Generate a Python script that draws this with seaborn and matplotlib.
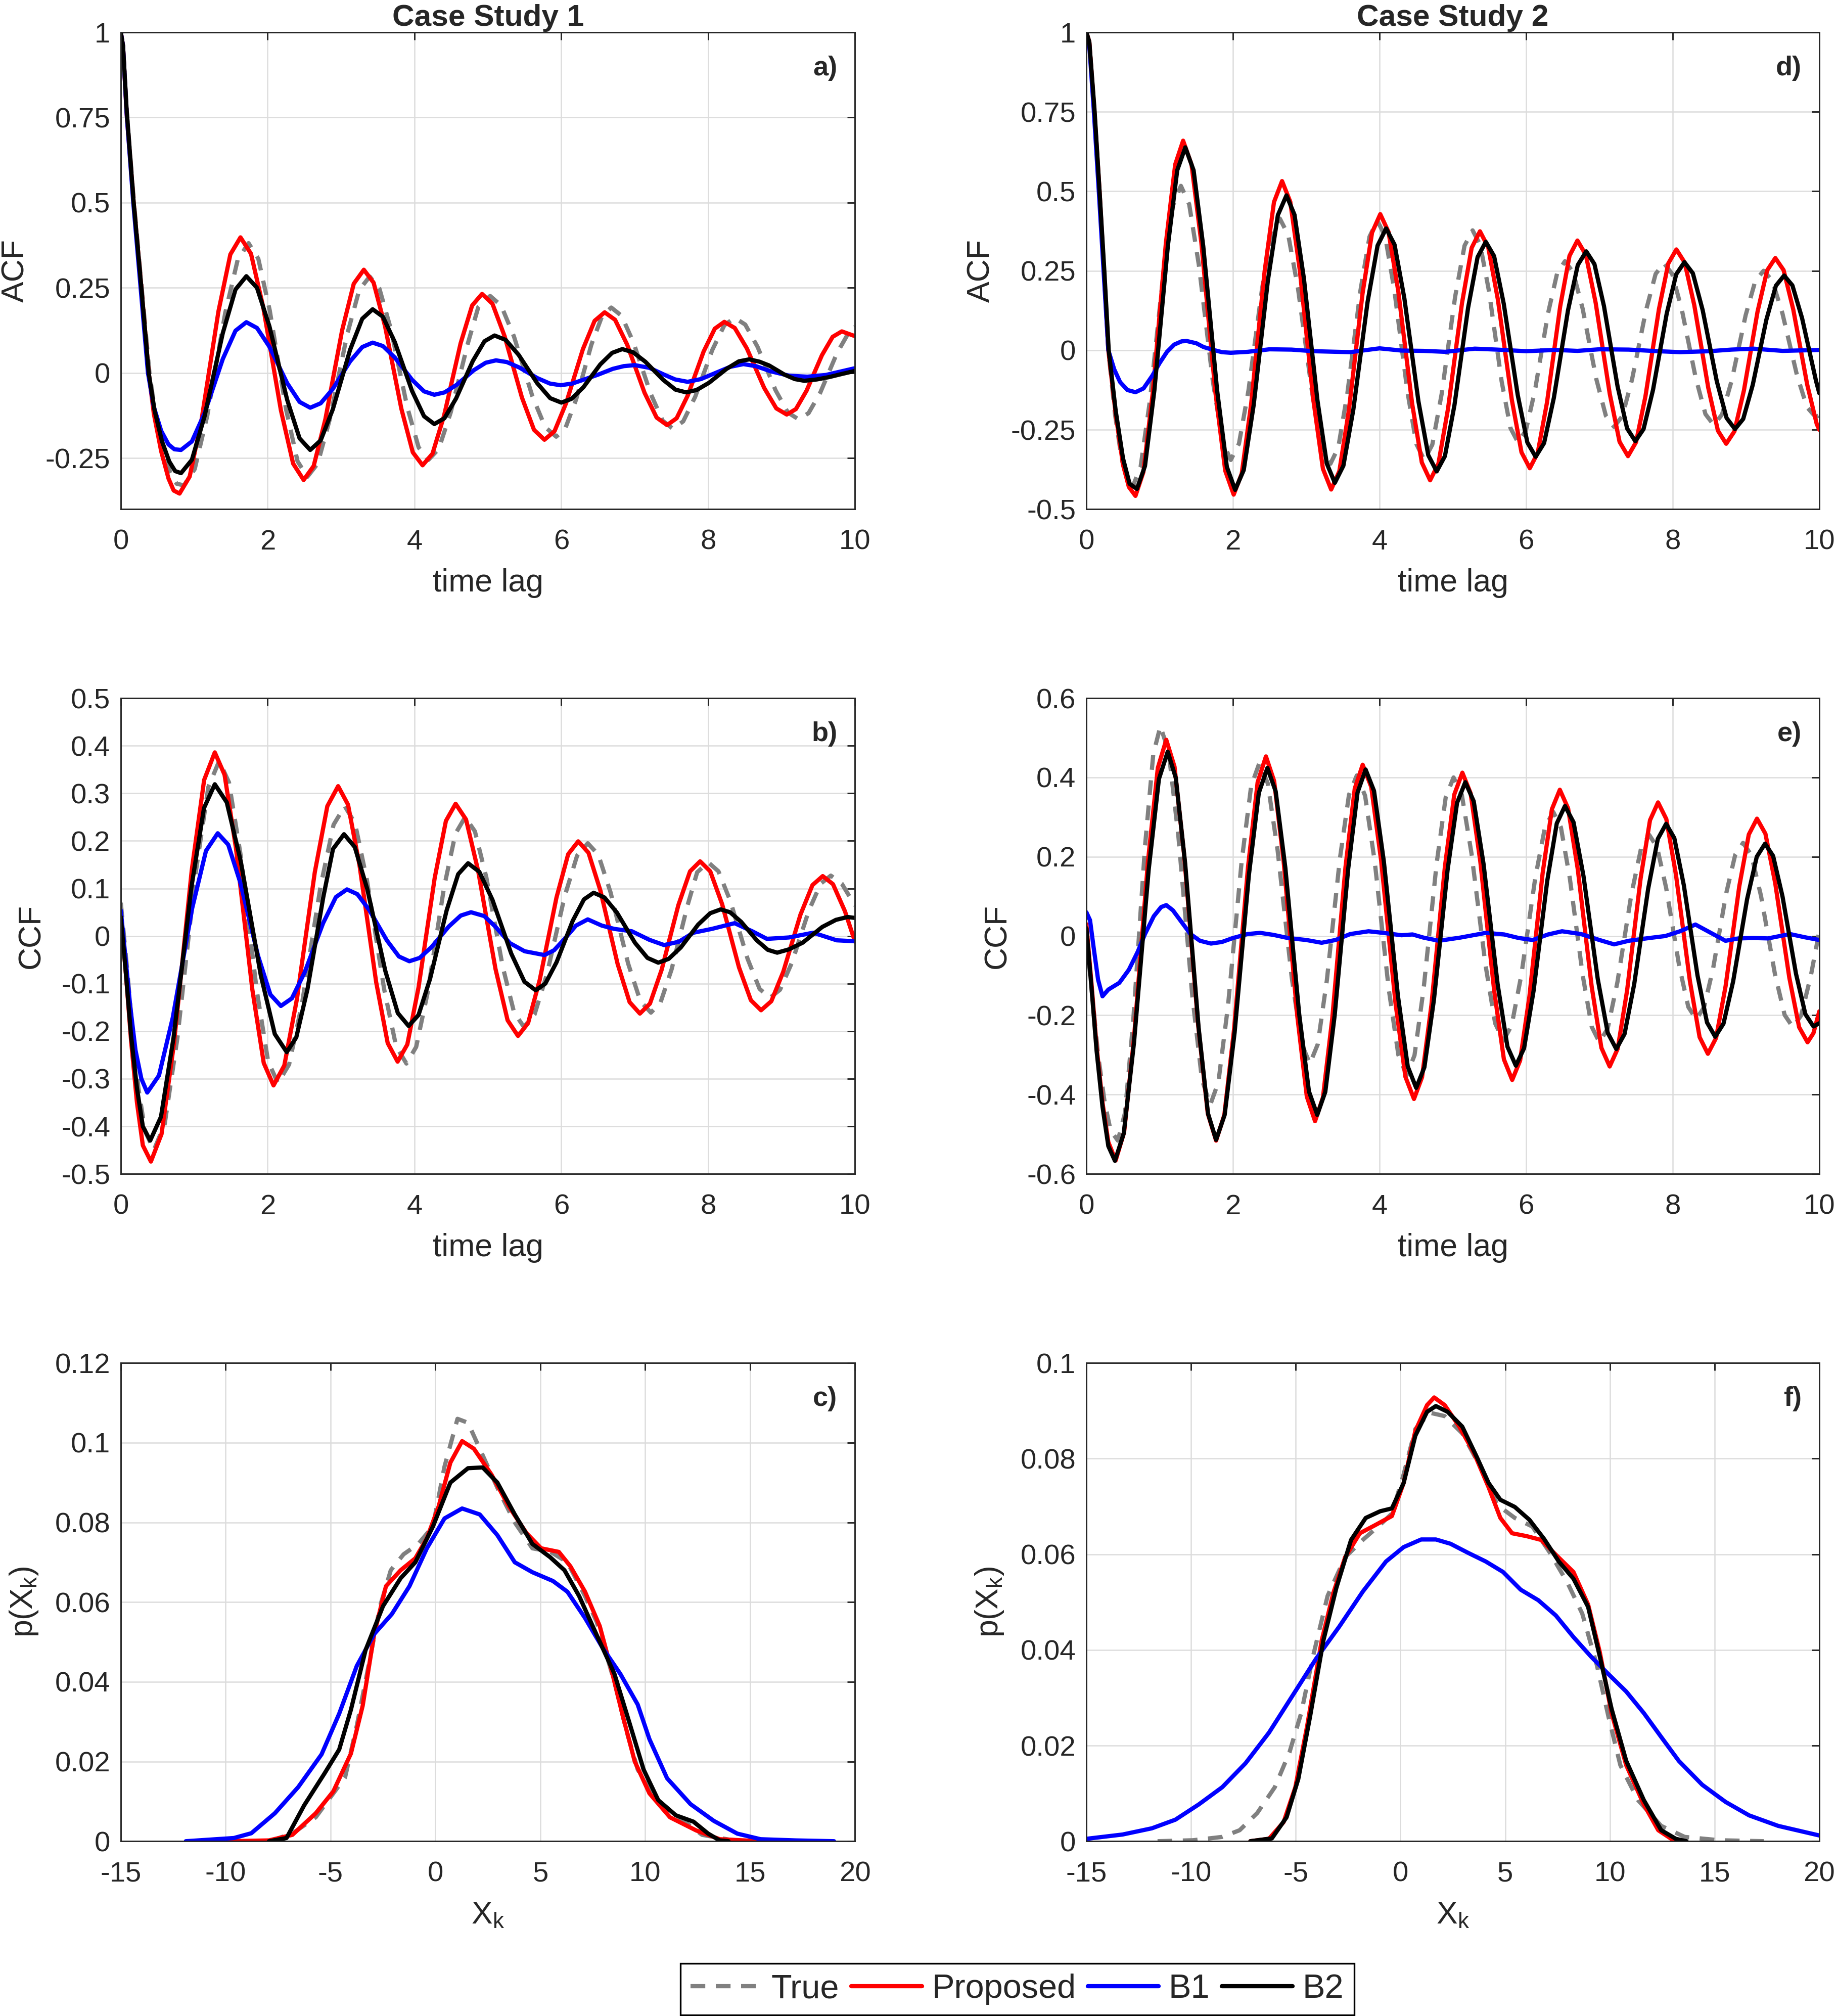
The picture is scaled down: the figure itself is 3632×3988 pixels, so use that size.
import matplotlib
matplotlib.use("Agg")
import matplotlib.pyplot as plt
import matplotlib.ticker as mticker
import seaborn as sns
import pandas as pd

# ---------------------------------------------------------------
# Valores (tempo, valor) / (X_k, densidade)
# ---------------------------------------------------------------

# a) ACF - Case Study 1
acf1_true = [
    (0, 1.0), (0.03, 0.96), (0.08, 0.77), (0.175, 0.51), (0.28, 0.26), (0.39, 0.0),
    (0.47, -0.12), (0.57, -0.22), (0.67, -0.29), (0.76, -0.325),
    (0.86, -0.33), (1.007, -0.282), (1.178, -0.125), (1.422, 0.176), (1.593, 0.333),
    (1.74, 0.381), (1.873, 0.335), (2.029, 0.183), (2.251, -0.107), (2.407, -0.259),
    (2.54, -0.305), (2.682, -0.266), (2.847, -0.135), (3.083, 0.113), (3.248, 0.244),
    (3.39, 0.283), (3.523, 0.247), (3.679, 0.128), (3.901, -0.100), (4.057, -0.219),
    (4.19, -0.255), (4.330, -0.223), (4.493, -0.116), (4.727, 0.087), (4.870, 0.194),
    (5.03, 0.226), (5.180, 0.198), (5.355, 0.107), (5.605, -0.068), (5.780, -0.159),
    (5.93, -0.187), (6.055, -0.162), (6.201, -0.078), (6.409, 0.083), (6.555, 0.167),
    (6.68, 0.192), (6.820, 0.168), (6.983, 0.089), (7.217, -0.061), (7.380, -0.140),
    (7.52, -0.164), (7.660, -0.142), (7.823, -0.070), (8.057, 0.068), (8.220, 0.140),
    (8.36, 0.162), (8.505, 0.142), (8.674, 0.076), (8.916, -0.050), (9.085, -0.116),
    (9.23, -0.136), (9.367, -0.118), (9.526, -0.058), (9.754, 0.058), (9.913, 0.118),
    (10.0, 0.135),
]
acf1_prop = [
    (0, 1.0), (0.03, 0.96), (0.08, 0.76), (0.175, 0.5), (0.28, 0.25), (0.38, 0.0),
    (0.45, -0.12), (0.55, -0.23), (0.65, -0.31), (0.72, -0.345),
    (0.80, -0.354), (0.938, -0.304), (1.100, -0.137), (1.330, 0.181), (1.492, 0.348),
    (1.63, 0.398), (1.773, 0.350), (1.940, 0.193), (2.180, -0.109), (2.347, -0.266),
    (2.49, -0.314), (2.627, -0.273), (2.786, -0.136), (3.014, 0.125), (3.173, 0.262),
    (3.31, 0.303), (3.443, 0.265), (3.599, 0.137), (3.821, -0.105), (3.977, -0.233),
    (4.11, -0.271), (4.245, -0.237), (4.402, -0.126), (4.628, 0.087), (4.785, 0.198),
    (4.92, 0.232), (5.062, 0.203), (5.227, 0.108), (5.463, -0.072), (5.628, -0.167),
    (5.77, -0.196), (5.907, -0.171), (6.066, -0.088), (6.294, 0.070), (6.453, 0.153),
    (6.59, 0.178), (6.732, 0.156), (6.897, 0.083), (7.133, -0.058), (7.298, -0.131),
    (7.44, -0.153), (7.570, -0.133), (7.722, -0.066), (7.938, 0.063), (8.090, 0.130),
    (8.22, 0.150), (8.362, 0.132), (8.527, 0.072), (8.763, -0.044), (8.928, -0.104),
    (9.07, -0.122), (9.195, -0.106), (9.34, -0.052), (9.549, 0.052), (9.695, 0.106),
    (9.82, 0.122), (10.0, 0.108),
]
acf1_b1 = [
    (0, 1.0), (0.03, 0.96), (0.08, 0.76), (0.17, 0.5), (0.27, 0.25), (0.37, 0.0),
    (0.45, -0.1), (0.55, -0.17), (0.65, -0.21), (0.73, -0.224),
    (0.82, -0.226), (0.968, -0.201), (1.141, -0.118), (1.389, 0.041), (1.562, 0.124),
    (1.71, 0.149), (1.855, 0.132), (2.024, 0.077), (2.266, -0.030), (2.435, -0.085),
    (2.58, -0.102), (2.722, -0.089), (2.887, -0.047), (3.123, 0.034), (3.288, 0.076),
    (3.43, 0.089), (3.570, 0.079), (3.733, 0.045), (3.967, -0.020), (4.130, -0.054),
    (4.27, -0.064), (4.41, -0.057), (4.573, -0.035), (4.807, 0.008), (4.97, 0.030),
    (5.11, 0.037), (5.257, 0.032), (5.428, 0.016), (5.672, -0.015), (5.843, -0.031),
    (5.99, -0.036), (6.15, -0.031), (6.3, -0.020), (6.5, -0.005), (6.7, 0.012),
    (6.85, 0.020), (7.0, 0.023), (7.2, 0.015), (7.4, -0.005), (7.55, -0.019),
    (7.72, -0.026), (7.9, -0.018), (8.1, 0.0), (8.3, 0.018), (8.48, 0.026),
    (8.65, 0.020), (8.85, 0.005), (9.1, -0.008), (9.35, -0.011), (9.6, -0.006),
    (9.8, 0.004), (10.0, 0.014),
]
acf1_b2 = [
    (0, 1.0), (0.03, 0.96), (0.08, 0.77), (0.175, 0.5), (0.28, 0.25), (0.38, 0.0),
    (0.46, -0.11), (0.56, -0.2), (0.66, -0.26), (0.74, -0.288),
    (0.82, -0.294), (0.968, -0.255), (1.141, -0.127), (1.389, 0.117), (1.562, 0.245),
    (1.71, 0.284), (1.855, 0.250), (2.024, 0.137), (2.266, -0.079), (2.435, -0.192),
    (2.58, -0.226), (2.722, -0.198), (2.887, -0.107), (3.123, 0.068), (3.288, 0.159),
    (3.43, 0.187), (3.570, 0.165), (3.733, 0.090), (3.967, -0.053), (4.130, -0.127),
    (4.27, -0.150), (4.407, -0.133), (4.566, -0.075), (4.794, 0.035), (4.953, 0.093),
    (5.09, 0.110), (5.242, 0.097), (5.419, 0.053), (5.671, -0.030), (5.848, -0.074),
    (6.00, -0.087), (6.138, -0.076), (6.300, -0.042), (6.530, 0.025), (6.692, 0.059),
    (6.83, 0.070), (6.975, 0.061), (7.144, 0.033), (7.386, -0.020), (7.555, -0.049),
    (7.70, -0.057), (7.843, -0.050), (8.010, -0.029), (8.250, 0.012), (8.417, 0.034),
    (8.56, 0.040), (8.70, 0.033), (8.83, 0.022), (9.04, -0.005), (9.18, -0.018),
    (9.31, -0.023), (9.48, -0.019), (9.65, -0.012), (9.82, -0.003), (10.0, 0.006),
]

# b) CCF - Case Study 1
ccf1_true = [
    (0, 0.07), (0.08, -0.06), (0.16, -0.2), (0.24, -0.32), (0.33, -0.41),
    (0.45, -0.45), (0.598, -0.395), (0.771, -0.214), (1.019, 0.132), (1.192, 0.313),
    (1.34, 0.368), (1.473, 0.323), (1.629, 0.173), (1.851, -0.114), (2.007, -0.264),
    (2.14, -0.309), (2.292, -0.270), (2.469, -0.141), (2.721, 0.105), (2.898, 0.234),
    (3.05, 0.273), (3.19, 0.237), (3.353, 0.117), (3.587, -0.112), (3.75, -0.232),
    (3.89, -0.268), (4.023, -0.233), (4.179, -0.119), (4.401, 0.101), (4.557, 0.215),
    (4.69, 0.250), (4.823, 0.220), (4.979, 0.123), (5.201, -0.064), (5.357, -0.161),
    (5.49, -0.191), (5.635, -0.165), (5.804, -0.080), (6.046, 0.084), (6.215, 0.169),
    (6.36, 0.195), (6.503, 0.171), (6.67, 0.092), (6.91, -0.058), (7.077, -0.137),
    (7.22, -0.161), (7.35, -0.140), (7.502, -0.070), (7.718, 0.064), (7.85, 0.134),
    (8.00, 0.155), (8.14, 0.136), (8.303, 0.073), (8.537, -0.048), (8.70, -0.111),
    (8.84, -0.130), (8.978, -0.113), (9.14, -0.056), (9.37, 0.053), (9.532, 0.110),
    (9.67, 0.127), (9.82, 0.110), (10.0, 0.064),
]
ccf1_prop = [
    (0, 0.048), (0.07, -0.08), (0.14, -0.22), (0.22, -0.35), (0.30, -0.44),
    (0.41, -0.474), (0.555, -0.416), (0.724, -0.226), (0.966, 0.138), (1.135, 0.328),
    (1.28, 0.386), (1.413, 0.339), (1.569, 0.184), (1.791, -0.112), (1.947, -0.267),
    (2.08, -0.314), (2.227, -0.272), (2.398, -0.133), (2.642, 0.134), (2.813, 0.273),
    (2.96, 0.315), (3.095, 0.276), (3.252, 0.148), (3.478, -0.097), (3.635, -0.225),
    (3.77, -0.264), (3.902, -0.228), (4.055, -0.108), (4.275, 0.122), (4.428, 0.242),
    (4.56, 0.278), (4.702, 0.245), (4.867, 0.137), (5.103, -0.069), (5.268, -0.177),
    (5.41, -0.210), (5.547, -0.183), (5.706, -0.092), (5.934, 0.081), (6.093, 0.172),
    (6.23, 0.199), (6.37, 0.175), (6.533, 0.095), (6.767, -0.059), (6.93, -0.139),
    (7.07, -0.163), (7.207, -0.142), (7.366, -0.071), (7.594, 0.065), (7.753, 0.136),
    (7.89, 0.157), (8.028, 0.136), (8.19, 0.067), (8.42, -0.066), (8.582, -0.135),
    (8.72, -0.156), (8.86, -0.137), (9.023, -0.075), (9.257, 0.045), (9.42, 0.107),
    (9.56, 0.126), (9.70, 0.109), (9.863, 0.052), (10.0, -0.012),
]
ccf1_b1 = [
    (0, 0.054), (0.06, -0.04), (0.13, -0.15), (0.20, -0.24), (0.28, -0.30),
    (0.36, -0.329), (0.52, -0.293), (0.707, -0.172), (0.973, 0.059), (1.16, 0.179),
    (1.32, 0.216), (1.463, 0.192), (1.63, 0.111), (1.87, -0.042), (2.037, -0.123),
    (2.18, -0.147), (2.33, -0.131), (2.505, -0.076), (2.755, 0.027), (2.93, 0.082),
    (3.08, 0.098), (3.222, 0.088), (3.387, 0.054), (3.623, -0.009), (3.788, -0.043),
    (3.93, -0.053), (4.07, -0.046), (4.233, -0.023), (4.467, 0.020), (4.63, 0.043),
    (4.77, 0.050), (4.95, 0.042), (5.1, 0.020), (5.3, -0.015), (5.5, -0.032),
    (5.77, -0.040), (5.9, -0.030), (6.05, -0.005), (6.2, 0.022), (6.36, 0.035),
    (6.55, 0.022), (6.72, 0.015), (6.96, 0.010), (7.2, -0.008), (7.40, -0.019),
    (7.6, -0.012), (7.80, 0.007), (8.05, 0.015), (8.36, 0.027), (8.6, 0.010),
    (8.80, -0.006), (9.1, -0.003), (9.43, 0.007), (9.75, -0.009), (10.0, -0.011),
]
ccf1_b2 = [
    (0, 0.04), (0.07, -0.08), (0.14, -0.21), (0.22, -0.32), (0.30, -0.40),
    (0.40, -0.430), (0.547, -0.380), (0.718, -0.214), (0.962, 0.103), (1.133, 0.269),
    (1.28, 0.319), (1.443, 0.281), (1.634, 0.157), (1.906, -0.082), (2.097, -0.206),
    (2.26, -0.244), (2.39, -0.213), (2.542, -0.112), (2.758, 0.082), (2.89, 0.183),
    (3.04, 0.214), (3.187, 0.187), (3.358, 0.098), (3.602, -0.073), (3.773, -0.162),
    (3.92, -0.189), (4.055, -0.166), (4.212, -0.090), (4.438, 0.054), (4.595, 0.130),
    (4.73, 0.153), (4.883, 0.135), (5.062, 0.076), (5.318, -0.037), (5.497, -0.096),
    (5.65, -0.114), (5.782, -0.100), (5.935, -0.055), (6.155, 0.032), (6.308, 0.077),
    (6.44, 0.091), (6.587, 0.081), (6.758, 0.049), (7.002, -0.014), (7.173, -0.046),
    (7.32, -0.056), (7.462, -0.048), (7.627, -0.024), (7.863, 0.024), (8.028, 0.048),
    (8.17, 0.056), (8.298, 0.050), (8.448, 0.030), (8.662, -0.009), (8.812, -0.029),
    (8.94, -0.035), (9.10, -0.028), (9.287, -0.014), (9.553, 0.019), (9.74, 0.034),
    (9.90, 0.040), (10.0, 0.038),
]

# c) densidade - Case Study 1
pdf1_true = [
    (-7.9, 0.0), (-6.8, 0.002), (-5.71, 0.006), (-4.31, 0.016), (-3.75, 0.029),
    (-3.19, 0.044), (-2.64, 0.059), (-2.13, 0.068), (-1.52, 0.072), (-0.82, 0.0746),
    (-0.12, 0.079), (0.43, 0.094), (1.05, 0.106), (1.55, 0.105), (2.11, 0.0985),
    (2.95, 0.0887), (3.78, 0.080), (4.62, 0.0735), (5.46, 0.0727), (6.29, 0.070),
    (7.13, 0.0615), (7.69, 0.055), (8.53, 0.040), (9.09, 0.028), (9.64, 0.018),
    (10.48, 0.0103), (11.6, 0.006), (12.71, 0.0016), (14.1, 0.0003), (15.5, 0.0),
]
pdf1_prop = [
    (-9.89, 0.0), (-7.94, 0.0002), (-6.82, 0.0016), (-5.71, 0.007), (-4.87, 0.0125),
    (-4.03, 0.022), (-3.47, 0.034), (-2.92, 0.052), (-2.36, 0.064), (-1.66, 0.068),
    (-0.96, 0.071), (-0.41, 0.076), (0.15, 0.084), (0.71, 0.095), (1.27, 0.1004),
    (1.83, 0.0985), (2.67, 0.092), (3.50, 0.084), (4.34, 0.0773), (5.04, 0.0735),
    (5.88, 0.0726), (6.43, 0.069), (7.13, 0.0626), (7.83, 0.054), (8.39, 0.043),
    (8.95, 0.031), (9.5, 0.020), (10.2, 0.012), (11.18, 0.006), (12.43, 0.0027),
    (13.55, 0.0005), (15.5, 0.0),
]
pdf1_b1 = [
    (-11.9, 0.0), (-9.61, 0.0008), (-8.78, 0.002), (-7.66, 0.007), (-6.54, 0.0136),
    (-5.43, 0.0218), (-4.59, 0.032), (-3.75, 0.044), (-2.92, 0.052), (-2.08, 0.057),
    (-1.24, 0.064), (-0.41, 0.0735), (0.43, 0.081), (1.27, 0.0835), (2.11, 0.082),
    (2.95, 0.0768), (3.78, 0.070), (4.62, 0.0675), (5.6, 0.0653), (6.29, 0.0626),
    (7.13, 0.056), (7.97, 0.0485), (8.81, 0.042), (9.64, 0.0343), (10.2, 0.0256),
    (11.04, 0.0158), (12.16, 0.0093), (13.27, 0.0051), (14.39, 0.0019), (15.5, 0.0005),
    (17.18, 0.0002), (19.0, 0.0),
]
pdf1_b2 = [
    (-7.94, 0.0), (-7.1, 0.0008), (-6.26, 0.009), (-5.29, 0.017), (-4.59, 0.023),
    (-4.03, 0.033), (-3.33, 0.048), (-2.5, 0.059), (-1.66, 0.066), (-0.96, 0.070),
    (-0.12, 0.079), (0.71, 0.090), (1.55, 0.0936), (2.25, 0.0938), (2.95, 0.090),
    (3.78, 0.082), (4.62, 0.0746), (5.46, 0.0713), (6.15, 0.068), (6.85, 0.0615),
    (7.69, 0.0517), (8.53, 0.042), (9.23, 0.030), (9.92, 0.018), (10.62, 0.0103),
    (11.46, 0.0065), (12.3, 0.0049), (13.0, 0.0019), (13.55, 0.0002), (13.97, 0.0),
]

# d) ACF - Case Study 2
acf2_true = [
    (0, 1.0), (0.04, 0.97), (0.105, 0.76), (0.175, 0.5), (0.24, 0.25), (0.30, 0.0),
    (0.39, -0.2), (0.48, -0.34), (0.56, -0.41),
    (0.63, -0.43), (0.74, -0.367), (0.868, -0.157), (1.052, 0.244), (1.18, 0.454),
    (1.29, 0.517), (1.403, 0.459), (1.535, 0.268), (1.725, -0.096), (1.857, -0.287),
    (1.97, -0.345), (2.082, -0.294), (2.212, -0.126), (2.398, 0.195), (2.528, 0.363),
    (2.64, 0.414), (2.755, 0.362), (2.889, 0.192), (3.081, -0.135), (3.215, -0.305),
    (3.33, -0.357), (3.437, -0.306), (3.561, -0.136), (3.739, 0.187), (3.863, 0.357),
    (3.97, 0.408), (4.077, 0.358), (4.201, 0.191), (4.379, -0.128), (4.503, -0.295),
    (4.61, -0.345), (4.72, -0.297), (4.848, -0.137), (5.032, 0.169), (5.16, 0.329),
    (5.27, 0.377), (5.373, 0.332), (5.494, 0.185), (5.666, -0.098), (5.787, -0.245),
    (5.89, -0.290), (5.997, -0.252), (6.121, -0.126), (6.299, 0.116), (6.423, 0.242),
    (6.53, 0.280), (6.642, 0.245), (6.772, 0.130), (6.958, -0.091), (7.088, -0.206),
    (7.20, -0.241), (7.313, -0.207), (7.445, -0.092), (7.635, 0.125), (7.767, 0.240),
    (7.88, 0.274), (7.993, 0.240), (8.125, 0.127), (8.315, -0.088), (8.447, -0.201),
    (8.56, -0.235), (8.673, -0.202), (8.805, -0.095), (8.995, 0.110), (9.127, 0.218),
    (9.24, 0.250), (9.358, 0.219), (9.496, 0.117), (9.694, -0.077), (9.832, -0.179),
    (9.95, -0.21), (10.0, -0.205),
]
acf2_prop = [
    (0, 1.0), (0.04, 0.97), (0.11, 0.75), (0.18, 0.5), (0.24, 0.25), (0.30, 0.0),
    (0.40, -0.2), (0.50, -0.36), (0.58, -0.43),
    (0.67, -0.458), (0.778, -0.383), (0.905, -0.136), (1.085, 0.337), (1.212, 0.584),
    (1.32, 0.659), (1.435, 0.584), (1.569, 0.338), (1.761, -0.133), (1.895, -0.379),
    (2.01, -0.454), (2.12, -0.388), (2.248, -0.170), (2.432, 0.248), (2.56, 0.466),
    (2.67, 0.532), (2.782, 0.467), (2.912, 0.252), (3.098, -0.158), (3.228, -0.373),
    (3.34, -0.438), (3.452, -0.380), (3.582, -0.188), (3.768, 0.178), (3.898, 0.370),
    (4.01, 0.428), (4.123, 0.372), (4.255, 0.187), (4.445, -0.168), (4.577, -0.353),
    (4.69, -0.409), (4.803, -0.357), (4.935, -0.183), (5.125, 0.148), (5.257, 0.322),
    (5.37, 0.374), (5.483, 0.324), (5.615, 0.159), (5.805, -0.156), (5.937, -0.321),
    (6.05, -0.371), (6.158, -0.323), (6.285, -0.164), (6.465, 0.138), (6.592, 0.297),
    (6.70, 0.345), (6.815, 0.300), (6.949, 0.149), (7.141, -0.137), (7.275, -0.288),
    (7.39, -0.333), (7.50, -0.289), (7.628, -0.145), (7.812, 0.129), (7.94, 0.273),
    (8.05, 0.317), (8.163, 0.276), (8.295, 0.141), (8.485, -0.118), (8.617, -0.253),
    (8.73, -0.294), (8.842, -0.255), (8.972, -0.126), (9.158, 0.122), (9.288, 0.251),
    (9.40, 0.290), (9.513, 0.252), (9.645, 0.128), (9.835, -0.108), (9.965, -0.232),
    (10.0, -0.25),
]
acf2_b1 = [
    (0, 1.0), (0.04, 0.96), (0.10, 0.76), (0.17, 0.5), (0.235, 0.25), (0.30, 0.0),
    (0.38, -0.06), (0.46, -0.10), (0.56, -0.125), (0.67, -0.132), (0.78, -0.12),
    (0.90, -0.08), (1.0, -0.04), (1.1, -0.005), (1.2, 0.018), (1.3, 0.028),
    (1.37, 0.029), (1.5, 0.022), (1.6, 0.01), (1.75, 0.0), (1.85, -0.006),
    (1.97, -0.008), (2.2, -0.005), (2.5, 0.003), (2.8, 0.002), (3.1, -0.003),
    (3.6, -0.006), (4.0, 0.006), (4.3, -0.001), (4.6, -0.002), (4.9, -0.005),
    (5.3, 0.005), (5.6, 0.002), (6.0, -0.003), (6.4, 0.001), (6.7, -0.002),
    (7.0, 0.003), (7.4, 0.002), (7.8, -0.003), (8.1, -0.006), (8.5, -0.003),
    (8.8, 0.002), (9.1, 0.005), (9.5, -0.002), (10.0, 0.001),
]
acf2_b2 = [
    (0, 1.0), (0.04, 0.97), (0.11, 0.76), (0.18, 0.5), (0.245, 0.25), (0.305, 0.0),
    (0.40, -0.19), (0.50, -0.34), (0.59, -0.42),
    (0.69, -0.436), (0.80, -0.364), (0.928, -0.126), (1.112, 0.328), (1.24, 0.566),
    (1.35, 0.638), (1.463, 0.566), (1.595, 0.327), (1.785, -0.128), (1.917, -0.367),
    (2.03, -0.439), (2.147, -0.377), (2.283, -0.172), (2.477, 0.220), (2.613, 0.425),
    (2.73, 0.487), (2.84, 0.426), (2.968, 0.226), (3.152, -0.156), (3.28, -0.356),
    (3.39, -0.417), (3.507, -0.363), (3.643, -0.186), (3.837, 0.152), (3.973, 0.329),
    (4.09, 0.383), (4.205, 0.332), (4.339, 0.163), (4.531, -0.161), (4.665, -0.330),
    (4.78, -0.381), (4.892, -0.333), (5.022, -0.173), (5.208, 0.133), (5.338, 0.293),
    (5.45, 0.341), (5.563, 0.296), (5.695, 0.146), (5.885, -0.140), (6.017, -0.290),
    (6.13, -0.335), (6.245, -0.292), (6.379, -0.149), (6.571, 0.125), (6.705, 0.268),
    (6.82, 0.311), (6.932, 0.271), (7.062, 0.139), (7.248, -0.114), (7.378, -0.246),
    (7.49, -0.286), (7.602, -0.248), (7.732, -0.124), (7.918, 0.115), (8.048, 0.239),
    (8.16, 0.277), (8.275, 0.242), (8.409, 0.126), (8.601, -0.097), (8.735, -0.213),
    (8.85, -0.248), (8.962, -0.216), (9.092, -0.109), (9.278, 0.096), (9.408, 0.203),
    (9.52, 0.235), (9.633, 0.204), (9.765, 0.101), (9.955, -0.096), (10.0, -0.135),
]

# e) CCF - Case Study 2
ccf2_true = [
    (0, 0.0), (0.08, -0.15), (0.16, -0.3), (0.25, -0.42), (0.33, -0.49),
    (0.43, -0.516), (0.527, -0.446), (0.639, -0.215), (0.801, 0.228), (0.913, 0.459),
    (1.01, 0.529), (1.123, 0.465), (1.255, 0.253), (1.445, -0.150), (1.577, -0.362),
    (1.69, -0.426), (1.802, -0.368), (1.932, -0.177), (2.118, 0.187), (2.248, 0.378),
    (2.36, 0.436), (2.475, 0.385), (2.609, 0.217), (2.801, -0.103), (2.935, -0.271),
    (3.05, -0.322), (3.157, -0.273), (3.281, -0.112), (3.459, 0.195), (3.583, 0.356),
    (3.69, 0.405), (3.803, 0.354), (3.935, 0.187), (4.125, -0.133), (4.257, -0.300),
    (4.37, -0.351), (4.477, -0.301), (4.601, -0.134), (4.779, 0.183), (4.903, 0.350),
    (5.01, 0.400), (5.123, 0.356), (5.255, 0.208), (5.445, -0.072), (5.577, -0.220),
    (5.69, -0.264), (5.803, -0.225), (5.935, -0.098), (6.125, 0.147), (6.257, 0.274),
    (6.37, 0.313), (6.475, 0.274), (6.597, 0.145), (6.773, -0.100), (6.895, -0.229),
    (7.00, -0.268), (7.113, -0.233), (7.245, -0.117), (7.435, 0.104), (7.567, 0.220),
    (7.68, 0.255), (7.787, 0.224), (7.911, 0.121), (8.089, -0.076), (8.213, -0.179),
    (8.32, -0.210), (8.427, -0.180), (8.551, -0.082), (8.729, 0.107), (8.853, 0.205),
    (8.96, 0.235), (9.073, 0.204), (9.205, 0.101), (9.395, -0.096), (9.527, -0.199),
    (9.64, -0.230), (9.753, -0.200), (9.885, -0.100), (10.0, 0.012),
]
ccf2_prop = [
    (0, 0.03), (0.07, -0.12), (0.14, -0.28), (0.22, -0.42), (0.30, -0.52),
    (0.40, -0.566), (0.515, -0.495), (0.649, -0.260), (0.841, 0.189), (0.975, 0.424),
    (1.09, 0.495), (1.203, 0.427), (1.335, 0.203), (1.525, -0.224), (1.657, -0.448),
    (1.77, -0.516), (1.883, -0.451), (2.015, -0.236), (2.205, 0.173), (2.337, 0.388),
    (2.45, 0.453), (2.562, 0.391), (2.692, 0.188), (2.878, -0.202), (3.008, -0.405),
    (3.12, -0.467), (3.228, -0.407), (3.355, -0.208), (3.535, 0.173), (3.662, 0.372),
    (3.77, 0.432), (3.887, 0.376), (4.023, 0.189), (4.217, -0.168), (4.353, -0.355),
    (4.47, -0.411), (4.58, -0.356), (4.708, -0.174), (4.892, 0.175), (5.02, 0.357),
    (5.13, 0.412), (5.243, 0.360), (5.375, 0.188), (5.565, -0.139), (5.697, -0.311),
    (5.81, -0.363), (5.918, -0.314), (6.045, -0.152), (6.225, 0.158), (6.352, 0.320),
    (6.46, 0.369), (6.573, 0.322), (6.705, 0.168), (6.895, -0.128), (7.027, -0.282),
    (7.14, -0.329), (7.25, -0.284), (7.378, -0.137), (7.562, 0.145), (7.69, 0.292),
    (7.80, 0.337), (7.913, 0.295), (8.045, 0.154), (8.235, -0.114), (8.367, -0.255),
    (8.48, -0.297), (8.592, -0.257), (8.722, -0.126), (8.908, 0.125), (9.038, 0.256),
    (9.15, 0.296), (9.265, 0.258), (9.399, 0.133), (9.591, -0.105), (9.725, -0.230),
    (9.84, -0.268), (9.92, -0.245), (10.0, -0.19),
]
ccf2_b1 = [
    (0, 0.06), (0.05, 0.04), (0.10, -0.03), (0.16, -0.11), (0.22, -0.152),
    (0.30, -0.135), (0.45, -0.118), (0.58, -0.085), (0.70, -0.04), (0.80, 0.005),
    (0.92, 0.05), (1.02, 0.073), (1.09, 0.078), (1.18, 0.065), (1.30, 0.035),
    (1.42, 0.005), (1.55, -0.012), (1.70, -0.019), (1.85, -0.015), (2.0, -0.005),
    (2.2, 0.005), (2.37, 0.008), (2.55, 0.003), (2.75, -0.005), (3.0, -0.01),
    (3.21, -0.017), (3.4, -0.01), (3.6, 0.005), (3.85, 0.012), (4.05, 0.008),
    (4.3, 0.002), (4.45, 0.004), (4.6, -0.004), (4.81, -0.012), (5.1, -0.004),
    (5.45, 0.008), (5.7, 0.004), (5.9, -0.005), (6.09, -0.010), (6.3, 0.004),
    (6.49, 0.012), (6.75, 0.005), (7.0, -0.01), (7.2, -0.021), (7.4, -0.012),
    (7.68, -0.005), (7.9, 0.0), (8.1, 0.012), (8.31, 0.029), (8.5, 0.01),
    (8.72, -0.012), (8.9, -0.006), (9.1, -0.005), (9.3, -0.006), (9.6, 0.005),
    (9.8, -0.003), (10.0, -0.010),
]
ccf2_b2 = [
    (0, 0.02), (0.07, -0.13), (0.14, -0.29), (0.22, -0.43), (0.30, -0.53),
    (0.39, -0.567), (0.51, -0.498), (0.65, -0.269), (0.85, 0.167), (0.99, 0.396),
    (1.11, 0.465), (1.22, 0.399), (1.348, 0.183), (1.532, -0.232), (1.66, -0.448),
    (1.77, -0.514), (1.887, -0.451), (2.023, -0.243), (2.217, 0.153), (2.353, 0.361),
    (2.47, 0.424), (2.583, 0.365), (2.715, 0.172), (2.905, -0.199), (3.037, -0.392),
    (3.15, -0.451), (3.26, -0.393), (3.388, -0.200), (3.572, 0.169), (3.70, 0.362),
    (3.81, 0.420), (3.925, 0.366), (4.059, 0.188), (4.251, -0.151), (4.385, -0.329),
    (4.50, -0.383), (4.612, -0.331), (4.742, -0.161), (4.928, 0.166), (5.058, 0.336),
    (5.17, 0.388), (5.285, 0.340), (5.419, 0.182), (5.611, -0.121), (5.745, -0.279),
    (5.86, -0.327), (5.972, -0.283), (6.102, -0.138), (6.288, 0.139), (6.418, 0.284),
    (6.53, 0.328), (6.647, 0.287), (6.783, 0.151), (6.977, -0.108), (7.113, -0.244),
    (7.23, -0.285), (7.343, -0.247), (7.475, -0.121), (7.665, 0.119), (7.797, 0.245),
    (7.91, 0.283), (8.022, 0.247), (8.152, 0.128), (8.338, -0.099), (8.468, -0.218),
    (8.58, -0.254), (8.693, -0.221), (8.825, -0.114), (9.015, 0.093), (9.147, 0.200),
    (9.26, 0.233), (9.37, 0.202), (9.498, 0.100), (9.682, -0.095), (9.81, -0.197),
    (9.92, -0.228), (10.0, -0.22),
]

# f) densidade - Case Study 2
pdf2_true = [
    (-11.6, 0.0), (-9.91, 0.0002), (-8.51, 0.0009), (-7.68, 0.0023), (-6.84, 0.0059),
    (-6.0, 0.0113), (-5.3, 0.0186), (-4.74, 0.0268), (-4.18, 0.0386), (-3.48, 0.0513),
    (-2.64, 0.0594), (-1.8, 0.063), (-0.97, 0.0662), (-0.41, 0.0685), (0.15, 0.0767),
    (0.71, 0.0862), (1.41, 0.0896), (2.11, 0.0889), (2.95, 0.0853), (3.79, 0.0785),
    (4.63, 0.0703), (5.46, 0.0676), (6.3, 0.0658), (7.14, 0.0603), (7.98, 0.054),
    (8.68, 0.0476), (9.38, 0.0368), (9.94, 0.0259), (10.5, 0.0159), (11.34, 0.0086),
    (12.45, 0.0032), (13.57, 0.0009), (15.25, 0.0002), (17.35, 0.0),
]
pdf2_prop = [
    (-7.17, 0.0), (-6.28, 0.0005), (-5.58, 0.004), (-5.02, 0.0113), (-4.46, 0.024),
    (-3.76, 0.042), (-3.2, 0.052), (-2.64, 0.0594), (-1.94, 0.0644), (-1.25, 0.066),
    (-0.41, 0.068), (0.15, 0.0749), (0.71, 0.0858), (1.27, 0.0912), (1.61, 0.0928),
    (2.11, 0.0912), (2.81, 0.0867), (3.51, 0.0812), (4.21, 0.074), (4.77, 0.0676),
    (5.33, 0.0644), (6.02, 0.0638), (6.72, 0.063), (7.42, 0.0599), (8.26, 0.0563),
    (8.96, 0.0495), (9.52, 0.0395), (10.08, 0.0268), (10.78, 0.0159), (11.62, 0.0077),
    (12.31, 0.0023), (13.0, 0.0003), (13.3, 0.0),
]
pdf2_b1 = [
    (-15.0, 0.0005), (-13.27, 0.0014), (-11.87, 0.0027), (-10.75, 0.0045), (-9.63, 0.0077),
    (-8.51, 0.0113), (-7.4, 0.0163), (-6.28, 0.0227), (-5.16, 0.0304), (-4.04, 0.0381),
    (-2.92, 0.0449), (-1.8, 0.0522), (-0.69, 0.0585), (0.15, 0.0615), (0.99, 0.0631),
    (1.69, 0.0631), (2.39, 0.0622), (3.23, 0.0603), (4.07, 0.0585), (4.9, 0.0563),
    (5.74, 0.0526), (6.58, 0.0504), (7.42, 0.0472), (8.26, 0.0427), (9.1, 0.0386),
    (9.94, 0.0349), (10.78, 0.0313), (11.62, 0.0268), (12.45, 0.0218), (13.29, 0.0168),
    (14.41, 0.0118), (15.53, 0.0082), (16.65, 0.0054), (18.04, 0.0032), (20.0, 0.0012),
]
pdf2_b2 = [
    (-7.17, 0.0), (-6.14, 0.0006), (-5.44, 0.005), (-4.88, 0.013), (-4.32, 0.026),
    (-3.68, 0.042), (-3.06, 0.053), (-2.36, 0.063), (-1.66, 0.0676), (-0.97, 0.069),
    (-0.41, 0.0696), (0.15, 0.0749), (0.71, 0.0848), (1.27, 0.0898), (1.69, 0.091),
    (2.25, 0.0898), (2.95, 0.0867), (3.65, 0.0803), (4.21, 0.0749), (4.77, 0.0714),
    (5.46, 0.0699), (6.16, 0.0672), (6.86, 0.0632), (7.56, 0.0585), (8.26, 0.0549),
    (8.96, 0.049), (9.52, 0.0386), (10.08, 0.0277), (10.78, 0.0168), (11.62, 0.0086),
    (12.45, 0.0023), (13.15, 0.0005), (13.66, 0.0),
]

series = ["True", "Proposed", "B1", "B2"]
paineis = {
    "a": [acf1_true, acf1_prop, acf1_b1, acf1_b2],
    "b": [ccf1_true, ccf1_prop, ccf1_b1, ccf1_b2],
    "c": [pdf1_true, pdf1_prop, pdf1_b1, pdf1_b2],
    "d": [acf2_true, acf2_prop, acf2_b1, acf2_b2],
    "e": [ccf2_true, ccf2_prop, ccf2_b1, ccf2_b2],
    "f": [pdf2_true, pdf2_prop, pdf2_b1, pdf2_b2],
}

# tabela longa para o seaborn
registros = []
for painel, curvas in paineis.items():
    for nome, pontos in zip(series, curvas):
        for x, y in pontos:
            registros.append((painel, nome, x, y))
df = pd.DataFrame(registros, columns=["painel", "serie", "x", "y"])

cores = {"True": "#808080", "Proposed": "#ff0000", "B1": "#0000ff", "B2": "#000000"}
tracos = {"True": (3.5, 2.5), "Proposed": "", "B1": "", "B2": ""}

t_lag = [0, 2, 4, 6, 8, 10]
x_pdf = [-15, -10, -5, 0, 5, 10, 15, 20]
config = {
    "a": dict(pos=[0.0658, 0.7474, 0.3999, 0.2366], xlim=(0, 10), xt=t_lag,
              ylim=(-0.4, 1), yt=[-0.25, 0, 0.25, 0.5, 0.75, 1],
              xl="time lag", yl="ACF", titulo="Case Study 1"),
    "b": dict(pos=[0.0658, 0.4177, 0.3999, 0.2360], xlim=(0, 10), xt=t_lag,
              ylim=(-0.5, 0.5), yt=[-0.5, -0.4, -0.3, -0.2, -0.1, 0, 0.1, 0.2, 0.3, 0.4, 0.5],
              xl="time lag", yl="CCF", titulo=None),
    "c": dict(pos=[0.0658, 0.0867, 0.3999, 0.2372], xlim=(-15, 20), xt=x_pdf,
              ylim=(0, 0.12), yt=[0, 0.02, 0.04, 0.06, 0.08, 0.1, 0.12],
              xl=r"X$_{\mathrm{k}}$", yl=r"p(X$_{\mathrm{k}}$)", titulo=None),
    "d": dict(pos=[0.5917, 0.7474, 0.3992, 0.2366], xlim=(0, 10), xt=t_lag,
              ylim=(-0.5, 1), yt=[-0.5, -0.25, 0, 0.25, 0.5, 0.75, 1],
              xl="time lag", yl="ACF", titulo="Case Study 2"),
    "e": dict(pos=[0.5917, 0.4177, 0.3992, 0.2360], xlim=(0, 10), xt=t_lag,
              ylim=(-0.6, 0.6), yt=[-0.6, -0.4, -0.2, 0, 0.2, 0.4, 0.6],
              xl="time lag", yl="CCF", titulo=None),
    "f": dict(pos=[0.5917, 0.0867, 0.3992, 0.2372], xlim=(-15, 20), xt=x_pdf,
              ylim=(0, 0.1), yt=[0, 0.02, 0.04, 0.06, 0.08, 0.1],
              xl=r"X$_{\mathrm{k}}$", yl=r"p(X$_{\mathrm{k}}$)", titulo=None),
}

sns.set_theme(style="white")
plt.rcParams["font.family"] = ["Liberation Sans", "DejaVu Sans"]
plt.rcParams["mathtext.fontset"] = "custom"
plt.rcParams["mathtext.rm"] = "Liberation Sans"
plt.rcParams["mathtext.it"] = "Liberation Sans:italic"
plt.rcParams["axes.unicode_minus"] = False
plt.rcParams["lines.solid_joinstyle"] = "round"

cinza_eixo = "#262626"
fig = plt.figure(figsize=(3632 / 300, 3988 / 300), dpi=300)

for painel, cfg in config.items():
    ax = fig.add_axes(cfg["pos"])
    sns.lineplot(
        data=df[df["painel"] == painel], x="x", y="y",
        hue="serie", style="serie", hue_order=series, style_order=series,
        palette=cores, dashes=tracos, estimator=None, sort=False,
        linewidth=2.0, legend=False, ax=ax,
    )
    ax.set_xlim(cfg["xlim"])
    ax.set_ylim(cfg["ylim"])
    ax.set_xticks(cfg["xt"])
    ax.set_yticks(cfg["yt"])
    ax.xaxis.set_major_formatter(mticker.FuncFormatter(lambda v, p: f"{v:g}"))
    ax.yaxis.set_major_formatter(mticker.FuncFormatter(lambda v, p: f"{v:g}"))
    ax.grid(True, color="#dcdcdc", linewidth=0.6)
    ax.set_axisbelow(True)
    for spine in ax.spines.values():
        spine.set_color(cinza_eixo)
        spine.set_linewidth(0.7)
    ax.tick_params(axis="both", direction="in", top=True, right=True, length=3.5,
                   width=0.7, colors=cinza_eixo, labelsize=13.5)
    ax.tick_params(axis="x", pad=9.5)
    ax.tick_params(axis="y", pad=5)
    ax.set_xlabel(cfg["xl"], fontsize=15, color=cinza_eixo, labelpad=6)
    ax.set_ylabel(cfg["yl"], fontsize=15, color=cinza_eixo, labelpad=7)
    if cfg["titulo"]:
        ax.set_title(cfg["titulo"], fontsize=14.5, fontweight="bold", pad=3)
    ax.text(0.976, 0.925, painel + ")", transform=ax.transAxes, ha="right",
            va="center", fontsize=13, fontweight="bold")
    if painel == "a":
        ax_ref = ax

handles = ax_ref.get_lines()[:4]
leg = fig.legend(handles, series, loc="lower center", bbox_to_anchor=(0.554, 0.0005),
                 ncol=4, fontsize=16, frameon=True, fancybox=False, edgecolor="black",
                 framealpha=1, handlelength=2.1, handletextpad=0.3, columnspacing=0.35,
                 borderpad=0.3, borderaxespad=0)
leg.get_frame().set_linewidth(0.8)

fig.savefig("out.png", dpi=300)
